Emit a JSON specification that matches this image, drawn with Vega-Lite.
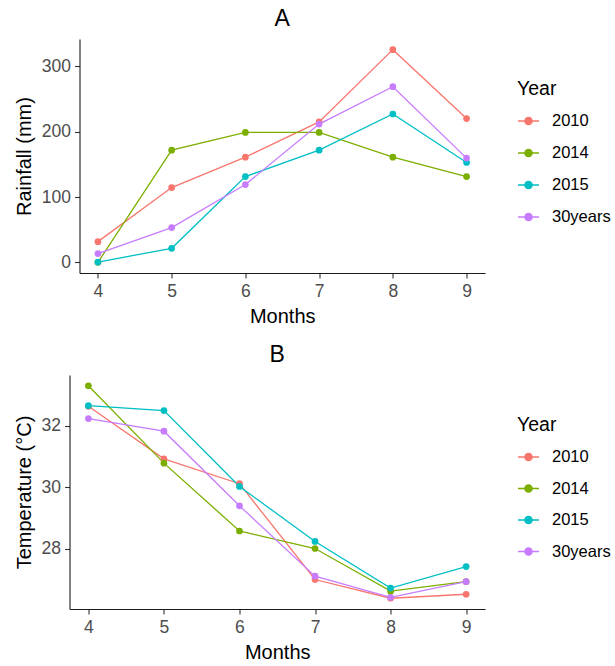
{
  "$schema": "https://vega.github.io/schema/vega-lite/v6.json",
  "padding": {"left": 13.5, "top": 8, "right": 5, "bottom": 5},
  "background": "white",
  "datasets": {
    "d": [
      {"Month": 4, "Year": "2010", "Rainfall": 31.7, "Temperature": 32.63},
      {"Month": 5, "Year": "2010", "Rainfall": 114.5, "Temperature": 30.92},
      {"Month": 6, "Year": "2010", "Rainfall": 161, "Temperature": 30.11},
      {"Month": 7, "Year": "2010", "Rainfall": 215, "Temperature": 26.99},
      {"Month": 8, "Year": "2010", "Rainfall": 325.5, "Temperature": 26.38},
      {"Month": 9, "Year": "2010", "Rainfall": 220, "Temperature": 26.51},
      {"Month": 4, "Year": "2014", "Rainfall": 0, "Temperature": 33.3},
      {"Month": 5, "Year": "2014", "Rainfall": 171.7, "Temperature": 30.78},
      {"Month": 6, "Year": "2014", "Rainfall": 198.8, "Temperature": 28.57},
      {"Month": 7, "Year": "2014", "Rainfall": 198.8, "Temperature": 28.0},
      {"Month": 8, "Year": "2014", "Rainfall": 161, "Temperature": 26.61},
      {"Month": 9, "Year": "2014", "Rainfall": 131.3, "Temperature": 26.92},
      {"Month": 4, "Year": "2015", "Rainfall": 0.5, "Temperature": 32.65},
      {"Month": 5, "Year": "2015", "Rainfall": 21.5, "Temperature": 32.49},
      {"Month": 6, "Year": "2015", "Rainfall": 131.3, "Temperature": 30.02},
      {"Month": 7, "Year": "2015", "Rainfall": 171.7, "Temperature": 28.23},
      {"Month": 8, "Year": "2015", "Rainfall": 227, "Temperature": 26.71},
      {"Month": 9, "Year": "2015", "Rainfall": 152.8, "Temperature": 27.41},
      {"Month": 4, "Year": "30years", "Rainfall": 13.3, "Temperature": 32.23},
      {"Month": 5, "Year": "30years", "Rainfall": 53.2, "Temperature": 31.82},
      {"Month": 6, "Year": "30years", "Rainfall": 119, "Temperature": 29.39},
      {"Month": 7, "Year": "30years", "Rainfall": 211.6, "Temperature": 27.1},
      {"Month": 8, "Year": "30years", "Rainfall": 268.8, "Temperature": 26.41},
      {"Month": 9, "Year": "30years", "Rainfall": 159.5, "Temperature": 26.92}
    ]
  },
  "columns": 1,
  "align": "none",
  "spacing": 17,
  "resolve": {
    "scale": {"color": "shared", "x": "independent", "y": "independent"},
    "legend": {"color": "independent"}
  },
  "concat": [
    {
      "width": 415.5,
      "height": 234,
      "title": {"text": "A", "fontSize": 23, "font": "Liberation Sans", "fontWeight": "normal", "anchor": "middle", "frame": "group", "color": "#000000", "offset": 8, "dx": 5},
      "data": {"name": "d"},
      "layer": [
        {
          "mark": {"type": "line", "strokeWidth": 1.3},
          "encoding": {
            "x": {"field": "Month", "type": "quantitative", "title": "Months", "scale": {"domain": [3.75, 9.25], "nice": false, "zero": false, "range": [10, 415.5]}, "axis": {"values": [4, 5, 6, 7, 8, 9], "format": "d"}},
            "y": {"field": "Rainfall", "type": "quantitative", "title": "Rainfall (mm)", "scale": {"domain": [-16.3, 341.8], "nice": false, "zero": false}, "axis": {"values": [0, 100, 200, 300], "format": "d", "offset": -10}},
            "color": {"field": "Year", "type": "nominal", "scale": {"domain": ["2010", "2014", "2015", "30years"], "range": ["#F8766D", "#7CAE00", "#00BFC4", "#C77CFF"]},
              "legend": {"title": "Year", "orient": "none", "legendX": 447.5, "legendY": 41, "symbolType": "M-1,0L1,0M-0.35,0A0.35,0.35,0,1,1,0.35,0A0.35,0.35,0,1,1,-0.35,0Z", "symbolSize": 441, "symbolStrokeWidth": 1.3, "labelOffset": 12, "rowPadding": 12, "titlePadding": 10, "padding": 0,
                "encode": {"symbols": {"update": {"fill": {"scale": "color", "field": "value"}, "stroke": {"scale": "color", "field": "value"}, "opacity": {"value": 1}}}}}}
          }
        },
        {
          "mark": {"type": "point", "filled": true, "size": 45, "opacity": 1},
          "encoding": {
            "x": {"field": "Month", "type": "quantitative"},
            "y": {"field": "Rainfall", "type": "quantitative"},
            "color": {"field": "Year", "type": "nominal"}
          }
        }
      ]
    },
    {
      "width": 415.5,
      "height": 234,
      "title": {"text": "B", "fontSize": 23, "font": "Liberation Sans", "fontWeight": "normal", "anchor": "middle", "frame": "group", "color": "#000000", "offset": 8},
      "data": {"name": "d"},
      "layer": [
        {
          "mark": {"type": "line", "strokeWidth": 1.3},
          "encoding": {
            "x": {"field": "Month", "type": "quantitative", "title": "Months", "scale": {"domain": [3.75, 9.25], "nice": false, "zero": false}, "axis": {"values": [4, 5, 6, 7, 8, 9], "format": "d"}},
            "y": {"field": "Temperature", "type": "quantitative", "title": "Temperature (°C)", "scale": {"domain": [26.03, 33.65], "nice": false, "zero": false}, "axis": {"values": [28, 30, 32], "format": "d"}},
            "color": {"field": "Year", "type": "nominal",
              "legend": {"title": "Year", "orient": "none", "legendX": 447.5, "legendY": 41, "symbolType": "M-1,0L1,0M-0.35,0A0.35,0.35,0,1,1,0.35,0A0.35,0.35,0,1,1,-0.35,0Z", "symbolSize": 441, "symbolStrokeWidth": 1.3, "labelOffset": 12, "rowPadding": 11.5, "titlePadding": 10, "padding": 0,
                "encode": {"symbols": {"update": {"fill": {"scale": "color", "field": "value"}, "stroke": {"scale": "color", "field": "value"}, "opacity": {"value": 1}}}}}}
          }
        },
        {
          "mark": {"type": "point", "filled": true, "size": 45, "opacity": 1},
          "encoding": {
            "x": {"field": "Month", "type": "quantitative"},
            "y": {"field": "Temperature", "type": "quantitative"},
            "color": {"field": "Year", "type": "nominal"}
          }
        }
      ]
    }
  ],
  "config": {
    "view": {"stroke": null},
    "font": "Liberation Sans",
    "axis": {
      "grid": false,
      "domainColor": "#1a1a1a",
      "domainWidth": 1.1,
      "tickColor": "#333333",
      "tickWidth": 1.1,
      "tickSize": 5,
      "labelFont": "Liberation Sans",
      "labelFontSize": 17.5,
      "labelColor": "#4D4D4D",
      "labelPadding": 4,
      "titleFont": "Liberation Sans",
      "titleFontSize": 20,
      "titleFontWeight": "normal",
      "titleColor": "#000000",
      "titlePadding": 7
    },
    "legend": {
      "titleFont": "Liberation Sans",
      "titleFontSize": 19.5,
      "titleFontWeight": "normal",
      "titleColor": "#000000",
      "labelFont": "Liberation Sans",
      "labelFontSize": 16.5,
      "labelColor": "#000000"
    }
  }
}
